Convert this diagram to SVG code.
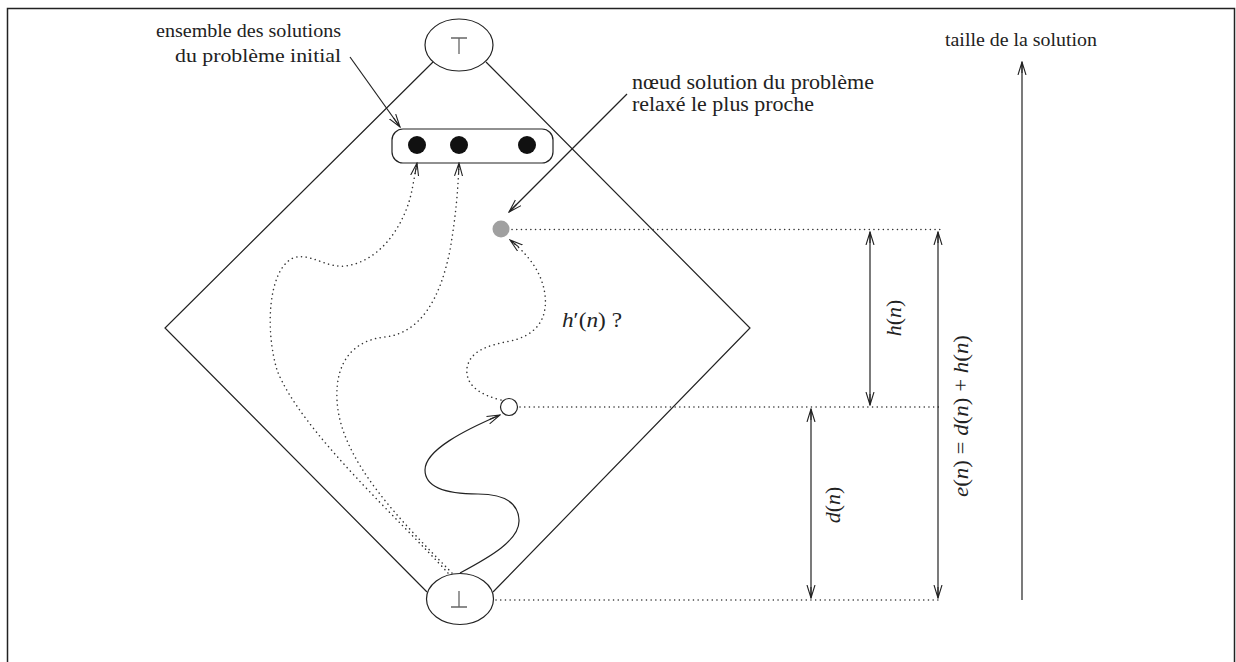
<svg xmlns="http://www.w3.org/2000/svg" width="1236" height="662" viewBox="0 0 1236 662">
<style>
.ln{fill:none;stroke:#222;stroke-width:1.2}
.dt{fill:none;stroke:#333;stroke-width:1.5;stroke-dasharray:0.1 4.6;stroke-linecap:round}
.tm{font-family:"Liberation Serif",serif;fill:#222}
.mi{font-style:italic}
</style>
<defs>
<marker id="v" viewBox="0 0 14 10" refX="13" refY="5" markerWidth="14" markerHeight="10" markerUnits="userSpaceOnUse" orient="auto-start-reverse">
<path d="M0,1 L13,5 L0,9 M2,5 L13,5" fill="none" stroke="#222" stroke-width="1.1"/>
</marker>
</defs>
<rect x="7.5" y="8.5" width="1227" height="670" fill="#fff" stroke="#222" stroke-width="1.5"/>
<g id="diamond">
<path class="ln" d="M433,62 L165,328 L427,592 M486,62 L750,328 L493,592"/>
</g>
<g id="top">
<ellipse class="ln" cx="459" cy="45" rx="34" ry="26"/>
<path d="M451,38 H467 M459,38 V54" stroke="#666" stroke-width="1.3" fill="none"/>
</g>
<g id="bottom">
<ellipse class="ln" cx="460" cy="599" rx="33.5" ry="25.5"/>
<path d="M451,607 H467 M459,607 V591" stroke="#666" stroke-width="1.3" fill="none"/>
</g>
<g id="solutions">
<rect class="ln" x="392" y="129" width="161" height="34" rx="11"/>
<circle cx="417" cy="145" r="9" fill="#111"/>
<circle cx="459" cy="145" r="9" fill="#111"/>
<circle cx="527" cy="145" r="9" fill="#111"/>
</g>
<g id="relaxed">
<circle cx="501" cy="229" r="8.5" fill="#a0a0a0"/>
</g>
<g id="current">
<circle cx="509" cy="407" r="8.5" fill="#fff" stroke="#222" stroke-width="1.2"/>
</g>
<g id="connectors">
<path class="ln" d="M350,57 L400,127" marker-end="url(#v)"/>
<path class="ln" d="M627,94 L509,212" marker-end="url(#v)"/>
<path class="ln" d="M460,573 C490,557 520,540 519,520 C518,500 500,494 478,494 C440,494 425,485 425,470 C425,450 465,430 500,415" marker-end="url(#v)"/>
<path class="dt" d="M448,573 C400,520 300,430 277,370 C265,330 268,270 293,258 C310,252 325,268 345,266 C380,262 405,225 412,190 L417,163" marker-end="url(#v)"/>
<path class="dt" d="M452,573 C400,520 340,460 337,400 C335,360 355,340 385,337 C420,333 440,300 450,250 C456,215 458,190 459,163" marker-end="url(#v)"/>
<path class="dt" d="M501,400 C480,395 465,385 467,368 C470,350 490,345 510,341 C535,336 548,320 545,295 C542,270 525,252 510,240" marker-end="url(#v)"/>
<path class="dt" d="M512,229.5 H940 M520,407 H940 M496,600 H940"/>
<path class="ln" d="M870,232 V405" marker-start="url(#v)" marker-end="url(#v)"/>
<path class="ln" d="M811,409 V598" marker-start="url(#v)" marker-end="url(#v)"/>
<path class="ln" d="M938,232 V598" marker-start="url(#v)" marker-end="url(#v)"/>
<path class="ln" d="M1022,600 V62" marker-end="url(#v)"/>
</g>
<g id="labels">
<text class="tm" x="341" y="37" font-size="19" textLength="185" lengthAdjust="spacingAndGlyphs" text-anchor="end">ensemble des solutions</text>
<text class="tm" x="341" y="62" font-size="19" textLength="166" lengthAdjust="spacingAndGlyphs" text-anchor="end">du problème initial</text>
<text class="tm" x="632" y="89" font-size="20.5" textLength="242" lengthAdjust="spacingAndGlyphs">nœud solution du problème</text>
<text class="tm" x="632" y="111" font-size="20.5" textLength="182" lengthAdjust="spacingAndGlyphs">relaxé le plus proche</text>
<text class="tm" x="945" y="46" font-size="19.5" textLength="152" lengthAdjust="spacingAndGlyphs">taille de la solution</text>
<text class="tm" x="562" y="327" font-size="22" textLength="60" lengthAdjust="spacingAndGlyphs"><tspan class="mi">h</tspan>′(<tspan class="mi">n</tspan>) ?</text>
<text class="tm" font-size="22" text-anchor="middle" transform="translate(901,318) rotate(-90)"><tspan class="mi">h</tspan>(<tspan class="mi">n</tspan>)</text>
<text class="tm" font-size="22" text-anchor="middle" transform="translate(840,505) rotate(-90)"><tspan class="mi">d</tspan>(<tspan class="mi">n</tspan>)</text>
<text class="tm" font-size="22" text-anchor="middle" textLength="162" lengthAdjust="spacingAndGlyphs" transform="translate(968,416) rotate(-90)"><tspan class="mi">e</tspan>(<tspan class="mi">n</tspan>) = <tspan class="mi">d</tspan>(<tspan class="mi">n</tspan>) + <tspan class="mi">h</tspan>(<tspan class="mi">n</tspan>)</text>
</g>
</svg>
